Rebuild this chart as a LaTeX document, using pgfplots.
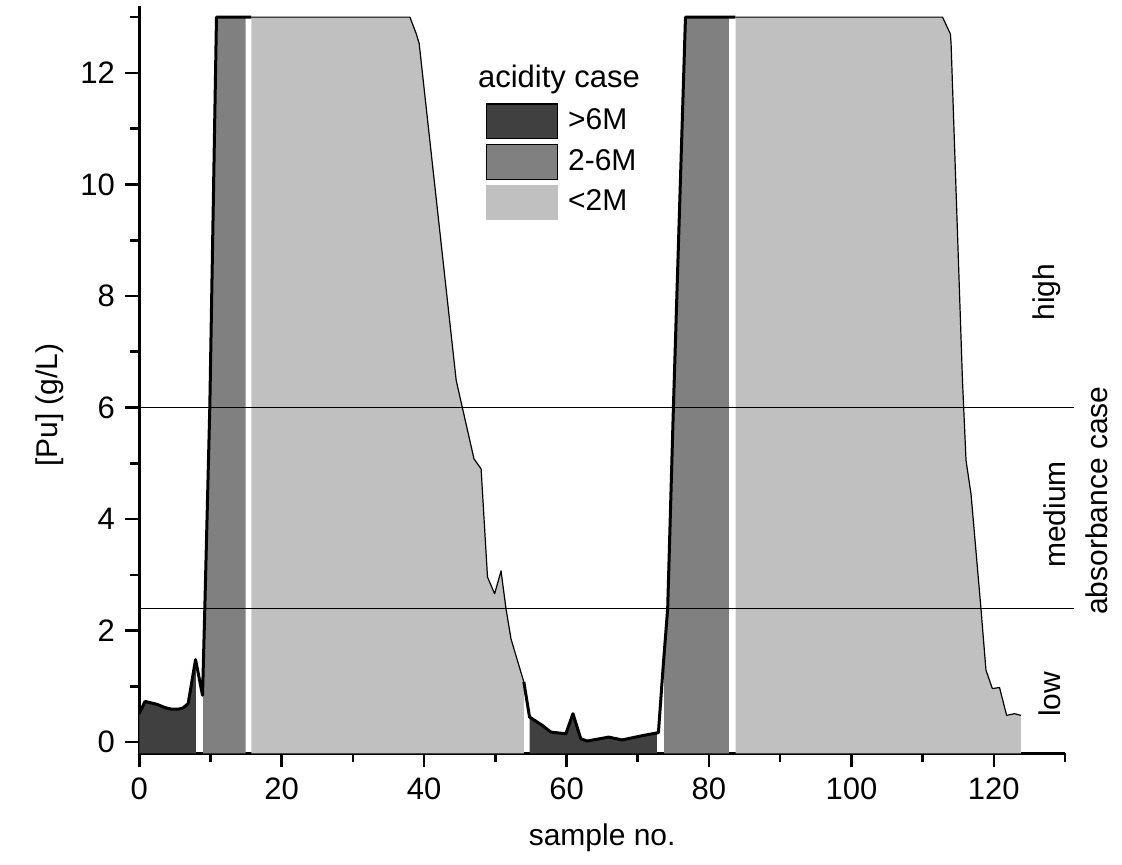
\documentclass[border=0pt]{standalone}
\usepackage{fontspec}
\setmainfont{Liberation Sans}
\usepackage{pgfplots}
\pgfplotsset{compat=1.18}
\definecolor{cdark}{HTML}{404040}
\definecolor{cmed}{HTML}{808080}
\definecolor{clight}{HTML}{C0C0C0}
\begin{document}
\fontsize{15}{18}\selectfont
\begin{tikzpicture}
\useasboundingbox (-69.65pt,-55.85pt) rectangle (491.35pt,376.65pt);
\begin{axis}[
  at={(0pt,0pt)}, anchor=south west,
  scale only axis, width=462.85pt, height=373.65pt,
  xmin=0, xmax=130, ymin=-0.2, ymax=13.2,
  clip=false,
  axis x line=bottom, axis y line=left,
  axis line style={-, line width=1.3pt},
  every tick/.style={black, line width=1.3pt},
  tick align=outside,
  major tick length=7pt, minor tick length=4.5pt,
  xtick={0,20,...,120}, minor xtick={10,30,...,130},
  ytick={0,2,...,12}, minor ytick={1,3,...,13},
  /pgf/number format/assume math mode=true,
  ticklabel style={font=\fontsize{15.5}{18}\selectfont},
  xlabel={sample no.}, ylabel={[Pu] (g/L)},
  every axis x label/.style={at={(axis description cs:0.5,0)}, yshift=-42.35pt, anchor=center, font=\fontsize{15}{18}\selectfont},
  every axis y label/.style={at={(axis description cs:0,0.466)}, xshift=-44.6pt, rotate=90, anchor=center, font=\fontsize{15}{18}\selectfont},
  legend style={at={(axis description cs:0.3742,0.8702)}, anchor=north west, draw=none, fill=none, inner sep=0pt, row sep=2.6pt, font=\fontsize{15}{18}\selectfont},
  legend cell align=left,
]
% fills
\addplot[forget plot, fill=cdark, draw=none] coordinates {
 (0,-0.2) (0,0.51) (0.8,0.73) (2.44,0.68) (3.6,0.62) (4.54,0.59) (5.4,0.59) (6.1,0.61) (6.86,0.69) (7.9,1.48) (7.94,1.45) (7.94,-0.2)};
\addplot[forget plot, fill=cmed, draw=none] coordinates {
 (8.96,-0.2) (8.96,1.23) (9.2,2.4) (9.9,6) (10.84,13) (14.94,13) (14.94,-0.2)};
\addplot[forget plot, fill=clight, draw=none] coordinates {
 (15.74,-0.2) (15.74,13) (38.0,13) (38.9,12.7) (39.3,12.53) (44.5,6.49) (45.4,5.98) (47.0,5.08) (48.0,4.9) (48.9,2.96) (49.9,2.66) (50.8,3.07) (51.5,2.39) (52.2,1.85) (54.0,1.08) (54.0,-0.2)};
\addplot[forget plot, fill=cdark, draw=none] coordinates {
 (54.8,-0.2) (54.8,0.45) (56.6,0.30) (57.8,0.18) (59.9,0.15) (60.9,0.51) (62.0,0.06) (62.9,0.02) (65.9,0.09) (67.8,0.04) (70.8,0.12) (72.7,0.17) (72.7,-0.2)};
\addplot[forget plot, fill=cmed, draw=none] coordinates {
 (73.7,-0.2) (73.7,1.57) (74.2,2.39) (75.0,5.98) (76.7,13) (82.8,13) (82.8,-0.2)};
\addplot[forget plot, fill=clight, draw=none] coordinates {
 (83.75,-0.2) (83.75,13) (112.8,13) (113.9,12.7) (114.0,12.53) (115.6,6.49) (116.1,5.05) (116.8,4.45) (118.2,2.39) (118.9,1.29) (119.8,0.96) (120.8,0.98) (121.8,0.48) (122.9,0.51) (123.8,0.48) (123.8,-0.2)};
% outline
\addplot[forget plot, black, line width=1.5pt, line join=round] coordinates {
 (0,0.51) (0.8,0.73) (2.44,0.68) (3.6,0.62) (4.54,0.59) (5.4,0.59) (6.1,0.61) (6.86,0.69) (7.9,1.48) (8.88,0.84) (9.2,2.4) (9.9,6) (10.84,13) (15.74,13)};
\addplot[forget plot, black, line width=0.6pt, line join=round] coordinates {
 (15.74,13) (38.0,13) (38.9,12.7) (39.3,12.53) (44.5,6.49) (45.4,5.98) (47.0,5.08) (48.0,4.9) (48.9,2.96) (49.9,2.66) (50.8,3.07) (51.5,2.39) (52.2,1.85) (54.0,1.08)};
\addplot[forget plot, black, line width=1.5pt, line join=round] coordinates {
 (54.0,1.08) (54.8,0.45) (56.6,0.30) (57.8,0.18) (59.9,0.15) (60.9,0.51) (62.0,0.06) (62.9,0.02) (65.9,0.09) (67.8,0.04) (70.8,0.12) (72.9,0.17) (73.6,1.41) (74.2,2.39) (75.0,5.98) (76.7,13) (83.7,13)};
\addplot[forget plot, black, line width=0.6pt, line join=round] coordinates {
 (83.7,13) (112.8,13) (113.9,12.7) (114.0,12.53) (115.6,6.49) (116.1,5.05) (116.8,4.45) (118.2,2.39) (118.9,1.29) (119.8,0.96) (120.8,0.98) (121.8,0.48) (122.9,0.51) (123.8,0.48)};
% threshold lines
\addplot[forget plot, black, line width=0.6pt] coordinates {(0,6) (131.3,6)};
\addplot[forget plot, black, line width=0.6pt] coordinates {(0,2.4) (131.3,2.4)};
% legend
\addlegendimage{legend image code/.code={\filldraw[fill=cdark, draw=black, line width=0.6pt] (0pt,-8.6pt) rectangle (35.5pt,8.6pt); \path (38.5pt,0pt);}}
\addlegendentry{>6M}
\addlegendimage{legend image code/.code={\filldraw[fill=cmed, draw=black, line width=0.6pt] (0pt,-8.6pt) rectangle (35.5pt,8.6pt); \path (38.5pt,0pt);}}
\addlegendentry{2-6M}
\addlegendimage{legend image code/.code={\fill[clight] (0pt,-8.6pt) rectangle (35.5pt,8.6pt); \path (38.5pt,0pt);}}
\addlegendentry{<2M}
\node[font=\fontsize{15.5}{18}\selectfont, anchor=center] at (axis description cs:0.4534,0.901) {acidity case};
% right-side labels
\node[rotate=90, anchor=center, font=\fontsize{15}{18}\selectfont] at (axis cs:127.5,8.07) {high};
\node[rotate=90, anchor=center, font=\fontsize{15}{18}\selectfont] at (axis cs:128.5,4.08) {medium};
\node[rotate=90, anchor=center, font=\fontsize{15}{18}\selectfont] at (axis cs:127.9,0.86) {low};
\node[rotate=90, anchor=center, font=\fontsize{15}{18}\selectfont] at (axis cs:134.5,4.33) {absorbance case};
\end{axis}
\end{tikzpicture}
\end{document}
